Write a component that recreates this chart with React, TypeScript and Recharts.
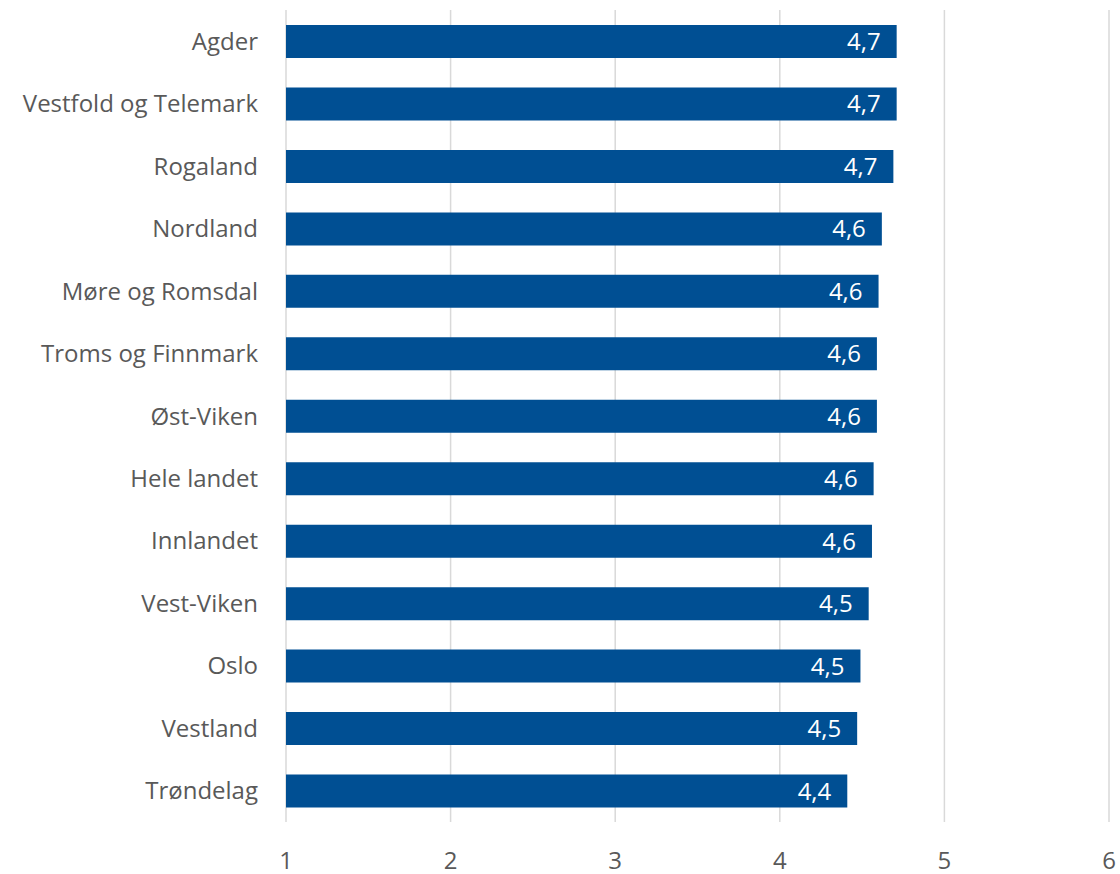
import React from "react";
import { BarChart, Bar, XAxis, YAxis, CartesianGrid, LabelList } from "recharts";

const regions = [
  "Agder",
  "Vestfold og Telemark",
  "Rogaland",
  "Nordland",
  "Møre og Romsdal",
  "Troms og Finnmark",
  "Øst-Viken",
  "Hele landet",
  "Innlandet",
  "Vest-Viken",
  "Oslo",
  "Vestland",
  "Trøndelag",
];

const scores = [4.71, 4.71, 4.69, 4.62, 4.6, 4.59, 4.59, 4.57, 4.56, 4.54, 4.49, 4.47, 4.41];

const xTicks = [1, 2, 3, 4, 5, 6];

const data = regions.map((name, i) => ({ name, value: scores[i] }));

const FONT = "'Open Sans', sans-serif";
const TEXT = "#595959";

export default function App() {
  return (
    <div style={{ position: "absolute", left: 0, top: 0, width: 1120, height: 874, background: "#fff" }}>
      <BarChart
        width={1120}
        height={874}
        data={data}
        layout="vertical"
        margin={{ top: 10, right: 11, bottom: 0, left: 0 }}
        barCategoryGap="47%"
      >
        <CartesianGrid horizontal={false} stroke="#d9d9d9" strokeWidth={1.5} />
        <XAxis
          type="number"
          domain={[1, 6]}
          ticks={xTicks}
          axisLine={false}
          tickLine={false}
          tickSize={0}
          tickMargin={30}
          height={52}
          interval={0}
          tick={{ fill: TEXT, fontSize: 24, fontFamily: FONT }}
        />
        <YAxis
          type="category"
          dataKey="name"
          width={286}
          axisLine={false}
          tickLine={false}
          tickSize={0}
          tickMargin={28}
          interval={0}
          tick={{ fill: TEXT, fontSize: 24, fontFamily: FONT }}
        />
        <Bar dataKey="value" fill="#004F93" barSize={33} isAnimationActive={false}>
          <LabelList
            dataKey="value"
            position="insideRight"
            offset={16}
            fill="#ffffff"
            fontSize={24}
            fontFamily={FONT}
            formatter={(v: number) => v.toFixed(1).replace(".", ",")}
          />
        </Bar>
      </BarChart>
    </div>
  );
}
